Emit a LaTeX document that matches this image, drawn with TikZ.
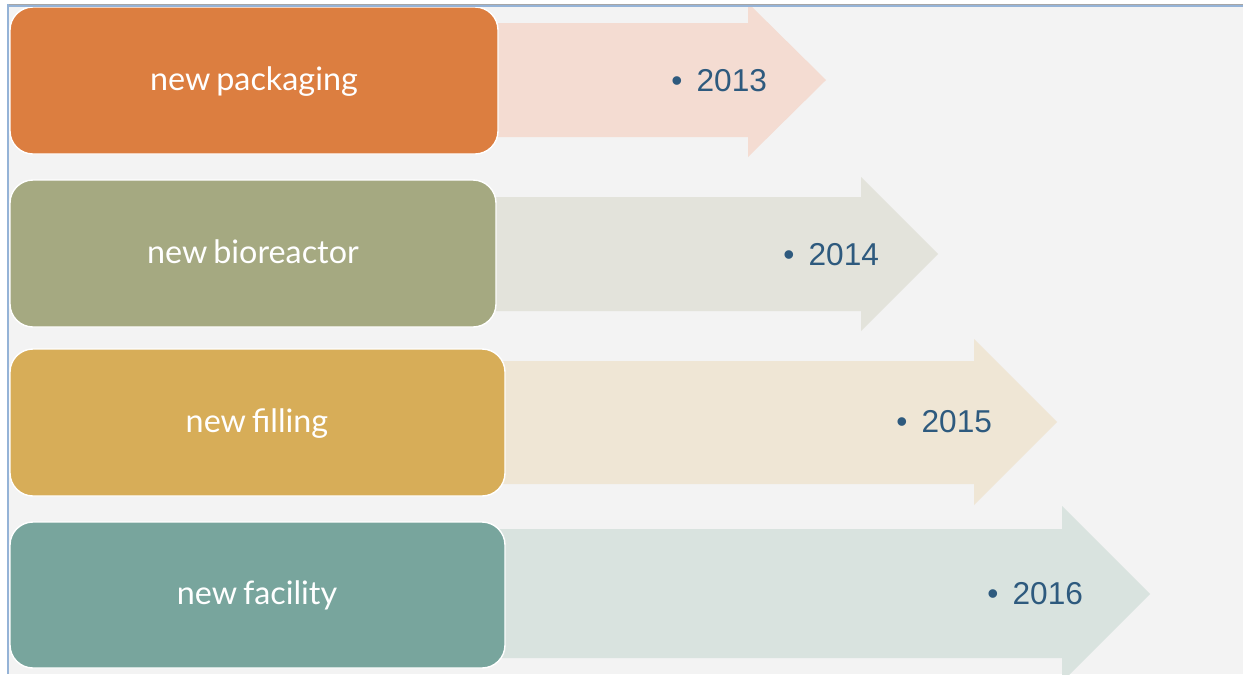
\documentclass[tikz,border=0pt]{standalone}
\usepackage{fontspec}
\setmainfont{Liberation Sans}
\newfontfamily\stagefont[WordSpace=0.7]{Lato}

\definecolor{packorange}{HTML}{DC7E40}
\definecolor{bioolive}{HTML}{A5A981}
\definecolor{fillgold}{HTML}{D7AD58}
\definecolor{facteal}{HTML}{78A59D}
\definecolor{packlight}{HTML}{F4DCD2}
\definecolor{biolight}{HTML}{E3E3DB}
\definecolor{filllight}{HTML}{EFE6D5}
\definecolor{faclight}{HTML}{D9E3DF}
\definecolor{yearblue}{HTML}{2E5A7E}
\definecolor{slidegrey}{HTML}{F3F3F3}
\definecolor{frameblue}{HTML}{95B3D7}

\tikzset{
  stagebox/.style={draw=white, line width=0.8pt, rounded corners=0.46cm},
  stagetext/.style={anchor=base, inner sep=0pt, text=white,
    font=\stagefont\fontsize{18.4}{22}\selectfont},
  yeartext/.style={anchor=base west, inner sep=0pt, text=yearblue,
    font=\fontsize{18}{21}\selectfont}
}

\begin{document}
\begin{tikzpicture}[x=0.02cm, y=-0.02cm]
\useasboundingbox (0,0) rectangle (1243,674);

\fill[white] (0,0) rectangle (1243,674);
\fill[slidegrey] (8,5) rectangle (1243,674);

\fill[packlight] (480,23) -- (748,23) -- (748,3) -- (826,80) -- (748,157) -- (748,137) -- (480,137) -- cycle;
\fill[biolight] (480,197) -- (861,197) -- (861,177) -- (938,254) -- (861,331) -- (861,311) -- (480,311) -- cycle;
\fill[filllight] (480,361) -- (974,361) -- (974,339) -- (1057,422) -- (974,505) -- (974,484) -- (480,484) -- cycle;
\fill[faclight] (480,529) -- (1062,529) -- (1062,506) -- (1150,594) -- (1062,682) -- (1062,658) -- (480,658) -- cycle;

\draw[stagebox, fill=packorange] (10,7) rectangle (498,154);
\draw[stagebox, fill=bioolive] (10,180) rectangle (496,327);
\draw[stagebox, fill=fillgold] (10,349) rectangle (505,496);
\draw[stagebox, fill=facteal] (10,522) rectangle (505,668);

\node[stagetext] (packaging) at (254,90) {new packaging};
\node[stagetext] (bioreactor) at (253,263) {new bioreactor};
\node[stagetext] (filling) at (257,432.5) {new filling};
\node[stagetext] (facility) at (257,604) {new facility};

\node[yeartext] (y2013) at (671,91) {\textbullet\hspace{0.45em}2013};
\node[yeartext] (y2014) at (783,265) {\textbullet\hspace{0.45em}2014};
\node[yeartext] (y2015) at (896,432) {\textbullet\hspace{0.45em}2015};
\node[yeartext] (y2016) at (987,604) {\textbullet\hspace{0.45em}2016};

\fill[white] (0,0) rectangle (1243,4);
\fill[frameblue] (7,4) rectangle (1243,7);
\fill[gray!70] (7,4) rectangle (1243,5);
\fill[frameblue] (7,4) rectangle (9,674);
\end{tikzpicture}
\end{document}
